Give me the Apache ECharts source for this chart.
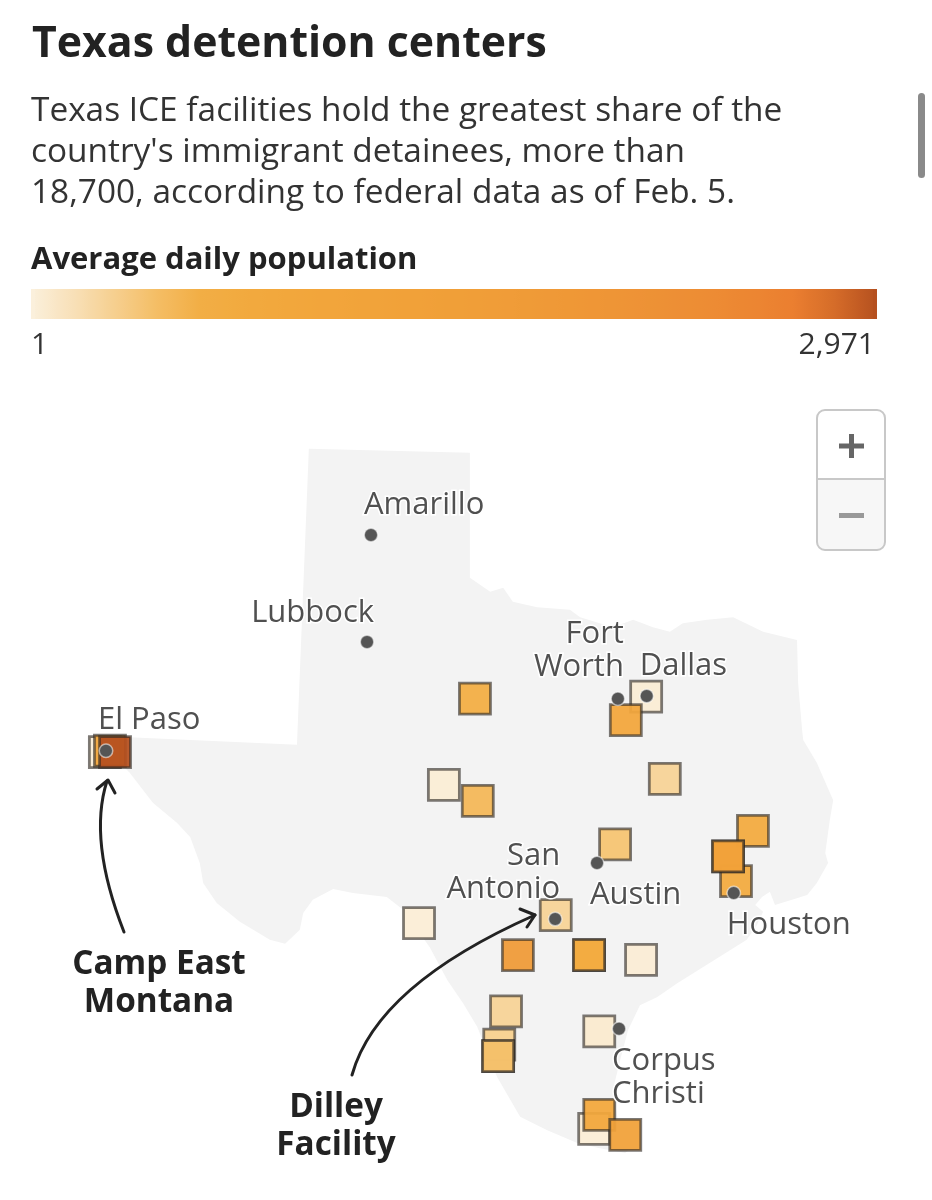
<!DOCTYPE html>
<html>
<head>
<meta charset="utf-8">
<style>html,body{margin:0;padding:0;background:#fff}#chart{width:932px;height:1200px}</style>
<script src="https://cdn.jsdelivr.net/npm/echarts@6/dist/echarts.min.js"></script>
</head>
<body>
<div id="chart"></div>
<script>
// ---- data ----
const titleText = 'Texas detention centers';
const subtitleLines = ['Texas ICE facilities hold the greatest share of the', "country's immigrant detainees, more than", '18,700, according to federal data as of Feb. 5.'];
const legendTitle = 'Average daily population';
const popMin = 1;
const popMax = 2971;
const popTickLabels = ['1', '2,971'];

const facilityLon = [-106.51,-106.42,-106.33,-99.96,-100.51,-99.91,-96.93,-97.29,-96.60,-97.48,-95.04,-95.34,-95.48,-95.48,-100.95,-98.53,-99.20,-97.94,-97.94,-97.02,-99.41,-99.53,-99.55,-99.55,-97.76,-97.85,-97.76,-97.30];
const facilityLat = [31.95,31.97,31.95,32.75,31.46,31.22,32.78,32.43,31.55,30.57,30.77,30.02,30.39,30.39,29.39,29.51,28.91,28.91,28.91,28.84,28.07,27.57,27.40,27.40,27.77,26.31,26.52,26.22];
const facilityPop = [25,980,2971,640,30,510,40,980,270,400,740,740,1300,1300,25,270,1780,700,700,35,270,300,420,420,60,25,900,1300];

const cityNames = ['Amarillo','Lubbock','El Paso','Fort\nWorth','Dallas','Austin','San\nAntonio','Houston','Corpus\nChristi'];
const cityLon = [-101.80,-101.87,-106.49,-97.43,-96.92,-97.80,-98.54,-95.38,-97.41];
const cityLat = [35.20,33.60,31.97,32.75,32.79,30.29,29.45,29.84,27.81];

const texasLon = [-102.90,-100.05,-100.05,-99.69,-99.46,-99.29,-98.86,-98.28,-98.10,-97.52,-97.16,-96.81,-96.51,-96.28,-95.85,-95.39,-94.86,-94.26,-94.24,-94.17,-94.15,-93.91,-93.62,-93.68,-93.76,-93.71,-93.91,-94.08,-94.65,-94.74,-94.88,-95.00,-94.86,-94.97,-95.15,-96.38,-96.74,-97.04,-97.25,-97.39,-97.52,-97.43,-97.15,-97.30,-97.75,-98.15,-98.68,-99.16,-99.57,-99.92,-100.17,-100.45,-100.76,-101.23,-101.52,-102.12,-102.47,-102.83,-103.00,-103.06,-103.32,-103.59,-104.12,-104.53,-104.77,-104.83,-105.00,-105.23,-105.66,-106.07,-106.21,-106.28,-103.11];
const texasLat = [36.49,36.43,34.56,34.35,34.41,34.20,34.12,34.08,33.97,33.82,33.93,33.82,33.75,33.88,33.93,33.97,33.75,33.63,32.98,32.28,32.13,31.79,31.23,30.93,30.44,30.29,29.99,29.81,29.66,29.86,29.78,29.66,29.56,29.36,29.14,28.49,28.28,28.16,27.79,27.34,26.89,26.44,26.07,25.95,26.02,26.10,26.29,26.49,27.09,27.84,28.19,28.54,29.03,29.59,29.78,29.84,29.90,29.74,29.54,29.29,29.08,29.14,29.41,29.69,29.99,30.29,30.68,30.89,31.19,31.64,31.76,32.18,32.06];

const annotations = [['Camp East','Montana'],['Dilley','Facility']];
const popColors = ['#fbf0dc','#f8e0b8','#f6cf8e','#f4bd64','#f2ae45','#f2aa3f','#f2a73c','#f2a53b','#f1a33a','#f1a139','#f09f38','#f09d38','#ef9a37','#ef9736','#ee9436','#ed9035','#ed8c34','#ec8632','#eb7f30','#d56c29','#b5501f'];

// ---- map ----
const ring = texasLon.map((lon, i) => [lon, texasLat[i]]);
ring.push(ring[0]);
echarts.registerMap('texas', {type:'FeatureCollection', features:[{type:'Feature', properties:{name:'Texas'}, geometry:{type:'Polygon', coordinates:[ring]}}]});

// ---- label placement (style only) ----
const cityLabelStyle = {
  'Amarillo':{align:'left',offset:[-7,-30]},
  'Lubbock':{align:'right',offset:[7,-29]},
  'El Paso':{align:'left',offset:[-8,-31]},
  'Fort\nWorth':{align:'right',offset:[6,-48]},
  'Dallas':{align:'left',offset:[-7,-30]},
  'Austin':{align:'left',offset:[-7,32]},
  'San\nAntonio':{align:'right',offset:[5,-46]},
  'Houston':{align:'left',offset:[-7,32]},
  'Corpus\nChristi':{align:'left',offset:[-7,49]}
};

const FONT = '"Open Sans", sans-serif';
function txt(text, x, y, size, weight, fill, align) {
  return {type:'text', silent:true, z:50, style:{text, x, y, fill, textAlign:align||'left', textVerticalAlign:'middle', font:`${weight} ${size}px ${FONT}`}};
}
function arrowCurve(x1,y1,cx,cy,x2,y2) {
  return {type:'bezierCurve', silent:true, z:40, shape:{x1,y1,cpx1:cx,cpy1:cy,x2,y2}, style:{fill:'none',stroke:'#222222',lineWidth:3,lineCap:'round'}};
}
function arrowHead(points) {
  return {type:'polyline', silent:true, z:40, shape:{points}, style:{fill:'none',stroke:'#222222',lineWidth:3,lineCap:'round',lineJoin:'round'}};
}

const graphics = [
  txt(titleText, 32, 45, 42.8, 700, '#222222'),
  txt(subtitleLines[0], 31, 111, 33.4, 400, '#333333'),
  txt(subtitleLines[1], 31, 152, 33.4, 400, '#333333'),
  txt(subtitleLines[2], 31, 193, 33.4, 400, '#333333'),
  txt(legendTitle, 31, 260, 31, 700, '#222222'),
  txt(popTickLabels[0], 31, 345, 30, 400, '#333333'),
  txt(popTickLabels[1], 875, 345, 30, 400, '#333333', 'right'),
  txt(annotations[0][0], 159, 965, 33.3, 700, '#222222', 'center'),
  txt(annotations[0][1], 159, 1003, 33.3, 700, '#222222', 'center'),
  txt(annotations[1][0], 336, 1108, 33.3, 700, '#222222', 'center'),
  txt(annotations[1][1], 336, 1146, 33.3, 700, '#222222', 'center'),
  // square off the legend bar's ends
  {type:'rect', silent:true, z:30, shape:{x:873,y:289,width:4,height:30}, style:{fill:'#b5501f'}},
  {type:'rect', silent:true, z:30, shape:{x:31,y:289,width:4,height:30}, style:{fill:'#fbf0dc'}},
  // scrollbar
  {type:'rect', silent:true, z:30, shape:{x:918,y:93,width:7,height:85,r:3.5}, style:{fill:'#8a8a8a'}},
  // zoom control
  {type:'rect', silent:true, z:30, shape:{x:817,y:480,width:68,height:70,r:[0,0,8,8]}, style:{fill:'#f7f7f7'}},
  {type:'rect', silent:true, z:31, shape:{x:817,y:410,width:68,height:140,r:8}, style:{fill:'none',stroke:'#c8c8c8',lineWidth:2}},
  {type:'line', silent:true, z:31, shape:{x1:817,y1:479,x2:885,y2:479}, style:{stroke:'#c8c8c8',lineWidth:2}},
  {type:'rect', silent:true, z:32, shape:{x:839,y:443.5,width:25,height:5}, style:{fill:'#666666'}},
  {type:'rect', silent:true, z:32, shape:{x:849,y:434,width:5,height:24}, style:{fill:'#666666'}},
  {type:'rect', silent:true, z:32, shape:{x:839,y:513,width:25,height:5}, style:{fill:'#999999'}},
  // arrows
  arrowCurve(124,932,88,840,107,781),
  arrowHead([[97,789],[108,780],[115,793]]),
  arrowCurve(352,1075,377,985,535,915),
  arrowHead([[520,909],[535,915],[527,927]])
];

const chart = echarts.init(document.getElementById('chart'));
chart.setOption({
  animation:false,
  backgroundColor:'#ffffff',
  geo:{
    map:'texas', roam:false, silent:true,
    aspectScale:0.8458,
    boundingCoords:[[-108.366,37.221],[-91.871,25.245]],
    left:0, top:400, width:932, height:800,
    itemStyle:{areaColor:'#f3f3f3', borderWidth:0},
    label:{show:false},
    emphasis:{disabled:true}, select:{disabled:true}
  },
  visualMap:{
    type:'continuous', min:popMin, max:popMax, seriesIndex:0, dimension:2,
    orient:'horizontal', left:31, top:289, padding:0,
    itemWidth:30, itemHeight:846, calculable:false, hoverLink:false, silent:true, showLabel:false,
    inRange:{color:popColors},
    textStyle:{fontSize:0}
  },
  series:[
    {
      type:'scatter', coordinateSystem:'geo', geoIndex:0, silent:true, z:5,
      symbol:'rect', symbolSize:31,
      itemStyle:{opacity:0.94, borderColor:'rgba(45,40,35,0.66)', borderWidth:2.8},
      emphasis:{disabled:true},
      data:facilityLon.map((lon,i)=>[lon, facilityLat[i], facilityPop[i]])
    },
    {
      type:'scatter', coordinateSystem:'geo', geoIndex:0, silent:true, z:6,
      symbol:'circle', symbolSize:13.5,
      itemStyle:{color:'#555555', opacity:1, borderColor:'rgba(255,255,255,0.55)', borderWidth:1.5},
      emphasis:{disabled:true},
      data:cityNames.map((name,i)=>({
        name, value:[cityLon[i], cityLat[i]],
        label:{show:true, position:'inside', formatter:'{b}', verticalAlign:'middle', fontFamily:'Open Sans', fontSize:31, lineHeight:33, color:'#505050', opacity:1, textBorderColor:'#ffffff', textBorderWidth:3, align:cityLabelStyle[name].align, offset:cityLabelStyle[name].offset}
      }))
    }
  ],
  graphic:graphics
});
</script>
</body>
</html>
